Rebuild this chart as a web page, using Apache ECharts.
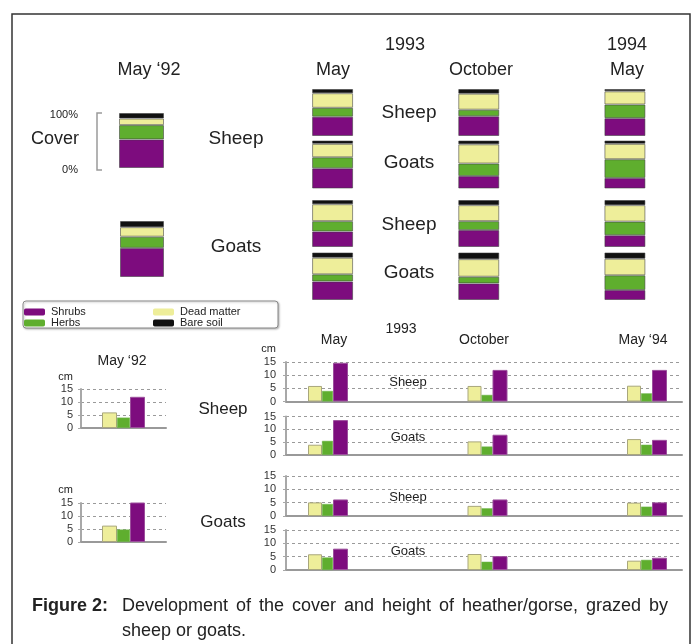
<!DOCTYPE html>
<html><head><meta charset="utf-8">
<script src="https://cdn.jsdelivr.net/npm/echarts@6/dist/echarts.min.js"></script>
<style>html,body{margin:0;padding:0;background:#fff}#c{width:698px;height:644px}</style>
</head><body><div id="c"></div>
<script>
// ---------------- data ----------------
const coverColumns = ['May 1993', 'October 1993', 'May 1994'];
// percentage cover in May '92: [Shrubs, Herbs, Dead matter, Bare soil]
const cover92Sheep = [52, 26, 12, 10];
const cover92Goats = [52, 20, 17, 11];
// rows: Sheep, Goats, Sheep, Goats ; each row = [May 93, Oct 93, May 94]
const coverShrubs = [[41, 42, 38], [42, 26, 22], [33, 36, 25], [39, 35, 21]];
const coverHerbs  = [[19, 14, 29], [23, 26, 39], [22, 19, 29], [15, 14, 31]];
const coverDead   = [[31, 34, 28], [28, 40, 32], [36, 34, 35], [35, 37, 35]];
const coverBare   = [[9, 10, 5], [7, 8, 7], [9, 11, 11], [11, 14, 13]];
const rowLabels = ['Sheep', 'Goats', 'Sheep', 'Goats'];

// heights in cm: [Dead matter, Herbs, Shrubs]
const height92Sheep = [6, 4, 12];
const height92Goats = [6.3, 4.8, 15.6];
const heightPeriods = [1, 2, 3]; // May 93, Oct 93, May 94
const heightDead   = [[5.9, 5.9, 6], [4, 5.3, 6.2], [5.1, 3.8, 5], [5.9, 6, 3.5]];
const heightHerbs  = [[4, 2.5, 3.1], [5.5, 3.3, 4], [4.5, 2.9, 3.5], [4.7, 3.1, 3.8]];
const heightShrubs = [[14.7, 12, 12], [13.6, 7.9, 5.9], [6.2, 6.2, 5.1], [8, 5.2, 4.6]];
const heightMax = 15, heightStep = 5;

const captionLabel = 'Figure 2:';
const captionLine1 = 'Development of the cover and height of heather/gorse, grazed by';
const captionLine2 = 'sheep or goats.';

// ---------------- styles ----------------
const FF = '"Liberation Sans", Arial, Helvetica, sans-serif';
const COL = { shrub: '#7d0c7e', herb: '#5fae2e', dead: '#eeee9a', bare: '#111111' };
const TXT = '#222';

const grids = [], xAxes = [], yAxes = [], series = [];

function coverGrid(left, top, width, height, cats, barW, vals) {
  const gi = grids.length;
  grids.push({ left, top, width, height });
  xAxes.push({ gridIndex: gi, type: 'category', data: cats, show: false });
  yAxes.push({ gridIndex: gi, type: 'value', min: 0, max: 100, show: false });
  const names = ['Shrubs', 'Herbs', 'Dead matter', 'Bare soil'];
  const cols = [COL.shrub, COL.herb, COL.dead, COL.bare];
  names.forEach((n, k) => {
    series.push({
      type: 'bar', name: n, xAxisIndex: gi, yAxisIndex: gi, stack: 'c' + gi,
      barWidth: barW, data: vals[k], silent: true,
      itemStyle: { color: cols[k], borderColor: 'rgba(60,60,60,0.55)', borderWidth: 1 }
    });
  });
}

// May '92 cover bars
coverGrid(119, 113, 45, 55, ['May 1992'], 45, cover92Sheep.map(v => [v]));
coverGrid(120, 221, 44, 56, ['May 1992'], 44, cover92Goats.map(v => [v]));
// 1993/1994 cover rows
const coverTops = [89, 140.5, 200, 252.5], coverHeights = [47, 48, 47, 47.5];
for (let r = 0; r < 4; r++) {
  coverGrid(259.5, coverTops[r], 442, coverHeights[r], coverColumns, 41,
    [coverShrubs[r], coverHerbs[r], coverDead[r], coverBare[r]]);
}

function yHeightAxis(gi, margin) {
  return {
    gridIndex: gi, type: 'value', min: 0, max: heightMax, interval: heightStep,
    axisLine: { show: true, lineStyle: { color: '#a8a8a8', width: 2 } },
    axisTick: { show: true, length: 3, lineStyle: { color: '#a8a8a8', width: 1 } },
    axisLabel: { fontSize: 11, color: '#333', margin: margin, fontFamily: FF },
    splitLine: { show: true, lineStyle: { color: '#9a9a9a', width: 1, type: [3, 3] } }
  };
}
const barStyles = [
  { name: 'Dead matter', w: 14, style: { color: COL.dead, borderColor: '#a9a77c', borderWidth: 1 } },
  { name: 'Herbs', w: 11, style: { color: COL.herb, borderColor: '#74b955', borderWidth: 0.5 } },
  { name: 'Shrubs', w: 15, style: { color: COL.shrub, borderColor: '#9c4f9c', borderWidth: 1 } }
];

// May '92 height charts
const h92 = [height92Sheep, height92Goats], h92Tops = [389, 503];
h92.forEach((vals, i) => {
  const gi = grids.length;
  grids.push({ left: 81, top: h92Tops[i], width: 85, height: 39 });
  xAxes.push({ gridIndex: gi, type: 'category', data: ['May 1992'],
    axisLine: { show: true, lineStyle: { color: '#999', width: 2 } },
    axisTick: { show: false }, axisLabel: { show: false } });
  yAxes.push(yHeightAxis(gi, 8));
  const ws = [15, 13, 15];
  barStyles.forEach((b, k) => {
    series.push({ type: 'bar', name: b.name, xAxisIndex: gi, yAxisIndex: gi, barGap: '0%',
      barWidth: ws[k], data: [vals[k]], itemStyle: b.style, silent: true });
  });
});

// 1993/94 height charts (value x axis so groups sit where they sit in the figure)
const hTops = [362, 416.5, 476, 530], hHeights = [39.5, 38.5, 40, 40];
const hLeft = 286, hRight = 682, c1 = 328, unit = 159.5;
for (let r = 0; r < 4; r++) {
  const gi = grids.length;
  grids.push({ left: hLeft, top: hTops[r], width: hRight - hLeft, height: hHeights[r] });
  xAxes.push({ gridIndex: gi, type: 'value',
    min: 1 - (c1 - hLeft) / unit, max: 1 + (hRight - c1) / unit,
    axisLine: { show: true, onZero: false, lineStyle: { color: '#999', width: 2 } },
    axisTick: { show: false }, axisLabel: { show: false }, splitLine: { show: false } });
  yAxes.push(yHeightAxis(gi, 10));
  const rowVals = [heightDead[r], heightHerbs[r], heightShrubs[r]];
  barStyles.forEach((b, k) => {
    series.push({ type: 'bar', name: b.name, xAxisIndex: gi, yAxisIndex: gi, barGap: '0%',
      barWidth: b.w, data: heightPeriods.map((p, j) => [p, rowVals[k][j]]),
      itemStyle: b.style, silent: true });
  });
}

// ---------------- text & shapes ----------------
function T(text, x, y, size, align, weight) {
  return { type: 'text', silent: true, z: 10, style: {
    text, x, y, fill: TXT, font: (weight || 'normal') + ' ' + size + 'px ' + FF,
    textAlign: align || 'center', textVerticalAlign: 'middle', align: align || 'center', verticalAlign: 'middle' } };
}
const g = [];
g.push({ type: 'rect', silent: true, z: 0, shape: { x: 12, y: 14, width: 678, height: 720 },
  style: { fill: 'none', stroke: '#333', lineWidth: 1.5 } });
// top headers
g.push(T('May \u201892', 149, 70, 18));
g.push(T('1993', 405, 45, 18));
g.push(T('1994', 627, 45, 18));
g.push(T('May', 333, 70, 18));
g.push(T('October', 481, 70, 18));
g.push(T('May', 627, 70, 18));
// cover scale
g.push(T('100%', 78, 115, 11, 'right'));
g.push(T('Cover', 55, 139, 18));
g.push(T('0%', 78, 170, 11, 'right'));
g.push({ type: 'polyline', silent: true, shape: { points: [[102, 113], [97, 113], [97, 170], [102, 170]] },
  style: { stroke: '#9a9a9a', lineWidth: 1.5, fill: 'none' } });
g.push(T('Sheep', 236, 139, 19));
g.push(T('Goats', 236, 247, 19));
const coverLabelY = [113, 163, 225, 273];
rowLabels.forEach((l, i) => g.push(T(l, 409, coverLabelY[i], 19)));
// legend box
g.push({ type: 'rect', silent: true, z: 1, shape: { x: 23, y: 301, width: 255, height: 27, r: 3 },
  style: { fill: '#fff', stroke: '#8a8a8a', lineWidth: 1, shadowBlur: 2, shadowColor: 'rgba(0,0,0,0.25)', shadowOffsetX: 1, shadowOffsetY: 1 } });
// bottom headers
g.push(T('May \u201892', 122, 361, 14));
g.push(T('1993', 401, 329, 14));
g.push(T('May', 334, 340, 14));
g.push(T('October', 484, 340, 14));
g.push(T('May \u201894', 643, 340, 14));
g.push(T('cm', 73, 377, 11, 'right'));
g.push(T('cm', 73, 490, 11, 'right'));
g.push(T('cm', 276, 349, 11, 'right'));
g.push(T('Sheep', 223, 409, 17));
g.push(T('Goats', 223, 522, 17));
const hLabelY = [382, 437, 497, 551];
rowLabels.forEach((l, i) => g.push(T(l, 408, hLabelY[i], 13)));
// caption (justified first line)
const capFont = '18px ' + FF;
const cv = document.createElement('canvas').getContext('2d');
cv.font = capFont;
g.push(T(captionLabel, 32, 606.5, 18, 'left', 'bold'));
const words = captionLine1.split(' ');
const wW = words.map(w => cv.measureText(w).width);
const total = wW.reduce((a, b) => a + b, 0);
const x0 = 122, x1 = 668;
const gap = (x1 - x0 - total) / (words.length - 1);
let cx = x0;
words.forEach((w, i) => { g.push(T(w, cx, 606.5, 18, 'left')); cx += wW[i] + gap; });
g.push(T(captionLine2, 122, 631.5, 18, 'left'));

const chart = echarts.init(document.getElementById('c'), null, { renderer: 'canvas' });
chart.setOption({
  animation: false,
  backgroundColor: '#fff',
  textStyle: { fontFamily: FF },
  grid: grids, xAxis: xAxes, yAxis: yAxes, series,
  legend: [
    { data: ['Shrubs', 'Herbs'], orient: 'vertical', left: 24, top: 306.5, padding: 0, itemGap: 0,
      itemWidth: 21, itemHeight: 7, icon: 'roundRect', selectedMode: false, z: 5,
      itemStyle: { borderWidth: 0 }, textStyle: { fontSize: 11, color: TXT, lineHeight: 10, padding: [0, 0, 0, 1] } },
    { data: ['Dead matter', 'Bare soil'], orient: 'vertical', left: 153, top: 306.5, padding: 0, itemGap: 0,
      itemWidth: 21, itemHeight: 7, icon: 'roundRect', selectedMode: false, z: 5,
      itemStyle: { borderWidth: 0 }, textStyle: { fontSize: 11, color: TXT, lineHeight: 10, padding: [0, 0, 0, 1] } }
  ],
  graphic: g
});
</script></body></html>
